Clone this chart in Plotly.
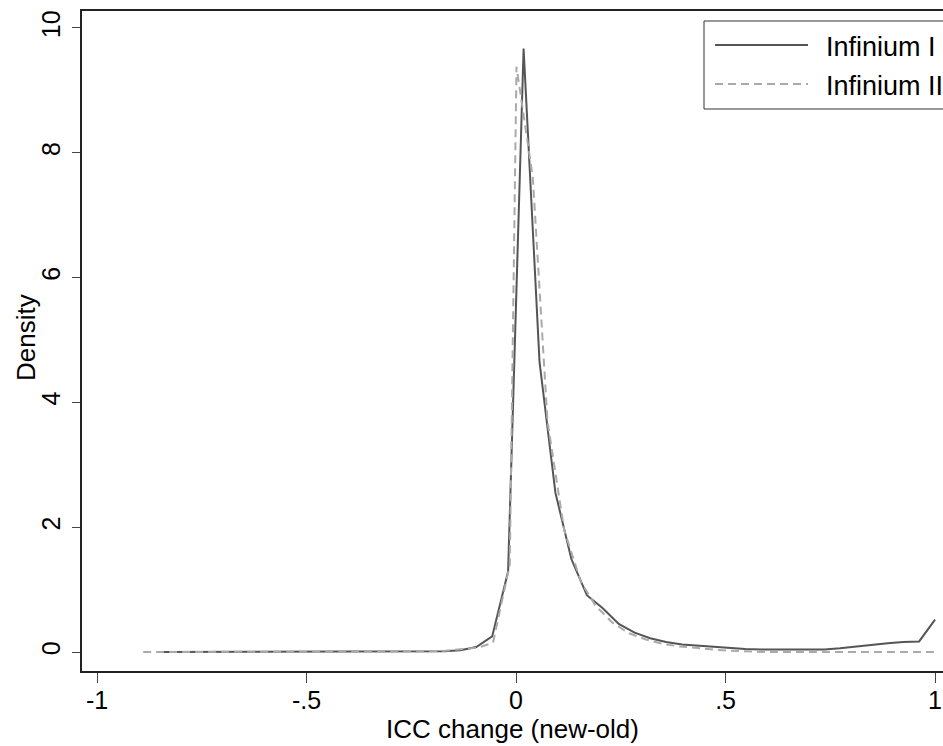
import plotly.graph_objects as go

# ---- data ----
inf1_x = [-0.85, -0.75, -0.65, -0.55, -0.45, -0.35, -0.25, -0.208, -0.17, -0.133,
          -0.095, -0.057, -0.019, 0.018, 0.056, 0.094, 0.132, 0.169, 0.207, 0.245,
          0.283, 0.32, 0.358, 0.396, 0.434, 0.471, 0.509, 0.547, 0.585, 0.622,
          0.66, 0.698, 0.736, 0.773, 0.811, 0.849, 0.887, 0.924, 0.962, 1.0]
inf1_y = [0, 0, 0, 0, 0, 0, 0.003, 0.006, 0.012, 0.03,
          0.08, 0.25, 1.29, 9.67, 4.65, 2.55, 1.49, 0.91, 0.70, 0.45,
          0.31, 0.22, 0.16, 0.12, 0.10, 0.08, 0.06, 0.05, 0.04, 0.04,
          0.04, 0.04, 0.04, 0.06, 0.09, 0.11, 0.14, 0.16, 0.17, 0.52]

inf2_x = [-0.89, -0.80, -0.70, -0.60, -0.50, -0.40, -0.30, -0.25, -0.21, -0.17,
          -0.13, -0.09, -0.055, -0.015, 0.001, 0.04, 0.075, 0.115, 0.155, 0.19,
          0.23, 0.27, 0.31, 0.35, 0.39, 0.43, 0.47, 0.51, 0.55, 0.60,
          0.70, 0.80, 0.90, 1.0]
inf2_y = [0, 0, 0, 0, 0, 0, 0, 0.005, 0.01, 0.02,
          0.04, 0.07, 0.15, 1.4, 9.38, 7.6, 3.7, 1.95, 1.12, 0.74,
          0.47, 0.30, 0.20, 0.13, 0.09, 0.06, 0.04, 0.02, 0.01, 0,
          0, 0, 0, 0]

series_names = ["Infinium I", "Infinium II"]
x_tickvals = [-1, -0.5, 0, 0.5, 1]
x_ticktext = ["-1", "-.5", "0", ".5", "1"]
y_tickvals = [0, 2, 4, 6, 8, 10]
y_ticktext = ["0", "2", "4", "6", "8", "10"]
x_title = "ICC change (new-old)"
y_title = "Density"

SOLID = "#555555"
DASHED = "#aaaaaa"
DASH = "8px,5px"
FONT = "Liberation Sans, Arial, sans-serif"

fig = go.Figure()
fig.add_trace(go.Scatter(x=inf1_x, y=inf1_y, mode="lines", name=series_names[0],
                         line=dict(color=SOLID, width=2), showlegend=False))
fig.add_trace(go.Scatter(x=inf2_x, y=inf2_y, mode="lines", name=series_names[1],
                         line=dict(color=DASHED, width=2, dash=DASH), showlegend=False))

fig.update_layout(
    width=943, height=746,
    margin=dict(l=82, r=0, t=11, b=75),
    paper_bgcolor="white", plot_bgcolor="white",
    font=dict(family=FONT, color="black", size=25),
    xaxis=dict(range=[-1.036, 1.019], tickvals=x_tickvals, ticktext=x_ticktext,
               showgrid=False, zeroline=False, showline=True, linecolor="#222",
               linewidth=2, mirror=True, ticks="outside", ticklen=10, tickwidth=1,
               tickcolor="#444", tickfont=dict(size=25), ticklabelstandoff=-4,
               title=dict(text=x_title, font=dict(size=26), standoff=4)),
    yaxis=dict(range=[-0.304, 10.272], tickvals=y_tickvals, ticktext=y_ticktext,
               showgrid=False, zeroline=False, showline=True, linecolor="#222",
               linewidth=2, ticks="outside", ticklen=8, tickwidth=1,
               tickcolor="#444", tickangle=-90, tickfont=dict(size=25),
               ticklabelstandoff=2),
)

def px_x(p):
    return (p - 82) / 861.0

def px_y(p):
    return (671 - p) / 660.0

# y-axis title placed to match the reference position
fig.add_annotation(xref="paper", yref="paper", x=px_x(26), y=px_y(337),
                   xanchor="center", yanchor="middle", text=y_title, textangle=-90,
                   showarrow=False, font=dict(size=26, color="black", family=FONT))

# custom legend (box, line samples, labels)
fig.add_shape(type="rect", xref="paper", yref="paper",
              x0=px_x(704), x1=px_x(990), y0=px_y(109), y1=px_y(21),
              line=dict(color="#333", width=1), fillcolor="white", layer="above")
fig.add_shape(type="line", xref="paper", yref="paper",
              x0=px_x(715), x1=px_x(808), y0=px_y(45), y1=px_y(45),
              line=dict(color=SOLID, width=2), layer="above")
fig.add_shape(type="line", xref="paper", yref="paper",
              x0=px_x(715), x1=px_x(808), y0=px_y(84), y1=px_y(84),
              line=dict(color=DASHED, width=2, dash=DASH), layer="above")
for name, yy in zip(series_names, [47, 86]):
    fig.add_annotation(xref="paper", yref="paper", x=px_x(824), y=px_y(yy),
                       xanchor="left", yanchor="middle", text=name, showarrow=False,
                       font=dict(size=27, color="black", family=FONT))

fig.write_html("out.html")
